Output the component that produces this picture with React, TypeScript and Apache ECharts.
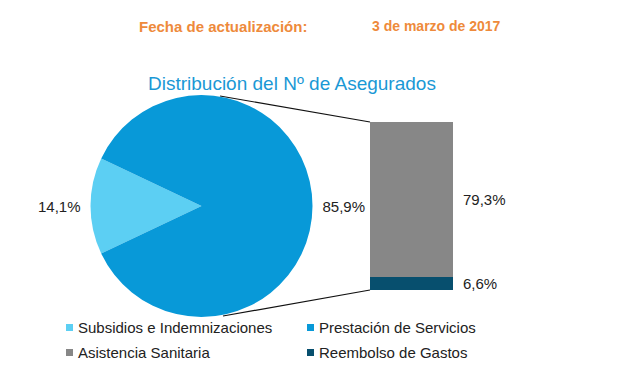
import React, { useEffect, useRef } from "react";
import * as echarts from "echarts";

const headerLabel = "Fecha de actualización:";
const headerDate = "3 de marzo de 2017";
const chartTitle = "Distribución del Nº de Asegurados";

const pieNames = ["Subsidios e Indemnizaciones", "Prestación de Servicios"];
const pieValues = [14.1, 85.9];
const barNames = ["Reembolso de Gastos", "Asistencia Sanitaria"];
const barValues = [6.6, 79.3];

const colors = {
  subsidios: "#5ccff3",
  prestacion: "#0899d8",
  asistencia: "#878787",
  reembolso: "#074f6e",
};

const fmt = (v: number) => v.toFixed(1).replace(".", ",") + "%";

export default function App() {
  const ref = useRef<HTMLDivElement>(null);
  useEffect(() => {
    document.body.style.margin = "0";
    if (!ref.current) return;
    const chart = echarts.init(ref.current, undefined, { renderer: "svg" });
    const barTotal = barValues.reduce((a, b) => a + b, 0);
    const sliceAngle = (pieValues[0] / pieValues.reduce((a, b) => a + b, 0)) * 360;
    const legendText = { fontSize: 15, color: "#222", fontFamily: "Liberation Sans, Arial, sans-serif" };
    const legendBase = {
      orient: "horizontal" as const,
      itemWidth: 7,
      itemHeight: 7,
      itemGap: 0,
      padding: 0,
      icon: "rect",
      textStyle: legendText,
      selectedMode: false,
    };
    chart.setOption({
      animation: false,
      backgroundColor: "#fff",
      title: [
        {
          text: headerLabel,
          left: 139,
          top: 19,
          padding: 0,
          textStyle: { fontSize: 15, fontWeight: "bold", color: "#ee8a3b", fontFamily: "Liberation Sans, Arial, sans-serif" },
        },
        {
          text: headerDate,
          left: 372,
          top: 19,
          padding: 0,
          textStyle: { fontSize: 14, fontWeight: "bold", color: "#ee8a3b", fontFamily: "Liberation Sans, Arial, sans-serif" },
        },
        {
          text: chartTitle,
          left: 148,
          top: 74,
          padding: 0,
          textStyle: { fontSize: 19, fontWeight: "normal", color: "#1a98d5", fontFamily: "Liberation Sans, Arial, sans-serif" },
        },
      ],
      legend: [
        { ...legendBase, left: 66, top: 320, data: [pieNames[0]] },
        { ...legendBase, left: 307, top: 320, data: [pieNames[1]] },
        { ...legendBase, left: 66, top: 345, data: [barNames[1]] },
        { ...legendBase, left: 307, top: 345, data: [barNames[0]] },
      ],
      grid: { left: 370, top: 122, width: 83, height: 168, containLabel: false },
      xAxis: { type: "category", data: ["x"], show: false },
      yAxis: { type: "value", min: 0, max: barTotal, show: false },
      series: [
        {
          type: "pie",
          center: [201.5, 206],
          radius: 111,
          startAngle: 180 + sliceAngle / 2,
          clockwise: true,
          avoidLabelOverlap: false,
          label: {
            show: true,
            position: "outside",
            formatter: (p: any) => fmt(p.value),
            fontSize: 15,
            color: "#222",
            fontFamily: "Liberation Sans, Arial, sans-serif",
          },
          labelLine: { show: false, length: 0, length2: 5 },
          itemStyle: { borderWidth: 0 },
          emphasis: { disabled: true },
          data: pieNames.map((n, i) => ({
            name: n,
            value: pieValues[i],
            itemStyle: { color: i === 0 ? colors.subsidios : colors.prestacion },
          })),
        },
        ...barNames.map((n, i) => ({
          type: "bar",
          name: n,
          stack: "total",
          barWidth: "100%",
          data: [barValues[i]],
          itemStyle: { color: i === 0 ? colors.reembolso : colors.asistencia },
          label: {
            show: true,
            position: "right",
            distance: 10,
            formatter: (p: any) => fmt(p.value),
            fontSize: 15,
            color: "#222",
            fontFamily: "Liberation Sans, Arial, sans-serif",
          },
          emphasis: { disabled: true },
        })),
      ],
      graphic: [
        { type: "line", shape: { x1: 220, y1: 96, x2: 370, y2: 122 }, style: { stroke: "#111", lineWidth: 1.2 } },
        { type: "line", shape: { x1: 223, y1: 316, x2: 370, y2: 290 }, style: { stroke: "#111", lineWidth: 1.2 } },
      ],
    });
    return () => chart.dispose();
  }, []);
  return <div ref={ref} style={{ width: 620, height: 368 }} />;
}
